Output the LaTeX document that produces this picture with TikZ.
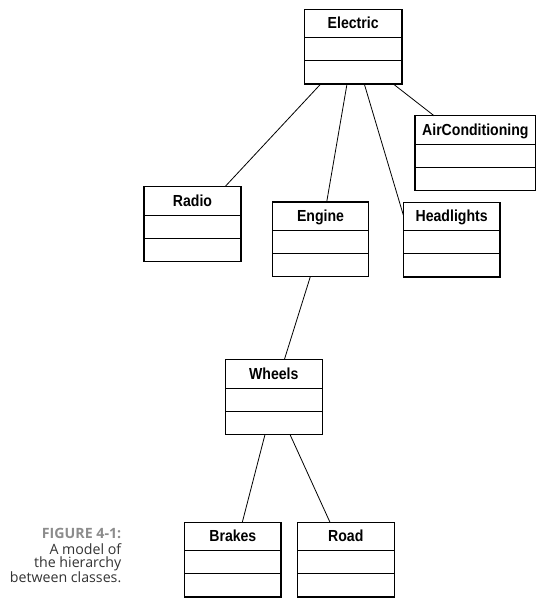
\documentclass[tikz,border=0pt]{standalone}
\usepackage{fontspec}
\usepackage{xcolor}
\usetikzlibrary{shapes.multipart}
\setmainfont{Open Sans}
\newfontfamily\classfont[FakeStretch=0.88]{Liberation Sans}

\newcommand\titlegap{\rule[-8.4pt]{0pt}{27.4pt}}
\newcommand\rowgap{\rule{0pt}{22pt}}

\begin{document}
\begin{tikzpicture}[x=1pt,y=-1pt,
  classbox/.style={draw,line width=1.1pt,rectangle split,rectangle split parts=3,
    inner sep=0pt,outer sep=0pt,anchor=north west,align=center,
    font=\fontsize{16}{16}\selectfont\classfont\bfseries},
  assoc/.style={line width=0.8pt}]
\useasboundingbox (0,0) rectangle (547,604);
\node[classbox,text width=97.7pt] (electric) at (304.3,9.3) {\titlegap Electric\nodepart{two}\rowgap\nodepart{three}\rowgap};
\node[classbox,text width=120.7pt] (aircon) at (415,115.7) {\titlegap AirConditioning\nodepart{two}\rowgap\nodepart{three}\rowgap};
\node[classbox,text width=97pt] (radio) at (144,186.7) {\titlegap Radio\nodepart{two}\rowgap\nodepart{three}\rowgap};
\node[classbox,text width=96.4pt] (engine) at (272.3,202) {\titlegap Engine\nodepart{two}\rowgap\nodepart{three}\rowgap};
\node[classbox,text width=96.7pt] (headlights) at (403.3,202.3) {\titlegap Headlights\nodepart{two}\rowgap\nodepart{three}\rowgap};
\node[classbox,text width=97pt] (wheels) at (225.3,359.8) {\titlegap Wheels\nodepart{two}\rowgap\nodepart{three}\rowgap};
\node[classbox,text width=96.3pt] (brakes) at (184.7,522.3) {\titlegap Brakes\nodepart{two}\rowgap\nodepart{three}\rowgap};
\node[classbox,text width=97pt] (road) at (297.3,522.3) {\titlegap Road\nodepart{two}\rowgap\nodepart{three}\rowgap};
\draw[assoc] ([xshift=16.4pt]electric.south west) -- ([xshift=81pt]radio.north west);
\draw[assoc] ([xshift=42.7pt]electric.south west) -- ([xshift=54.4pt]engine.north west);
\draw[assoc] ([xshift=60pt]electric.south west) -- ([yshift=-12.7pt]headlights.north west);
\draw[assoc] ([xshift=89pt]electric.south west) -- ([xshift=19pt]aircon.north west);
\draw[assoc] ([xshift=38pt]engine.south west) -- ([xshift=59pt]wheels.north west);
\draw[assoc] ([xshift=39.7pt]wheels.south west) -- ([xshift=57.6pt]brakes.north west);
\draw[assoc] ([xshift=64.7pt]wheels.south west) -- ([xshift=32.7pt]road.north west);
\node[anchor=north east,inner sep=0pt,align=right,text=black!80,
  font=\fontsize{14.2}{13.6}\selectfont] (caption) at (121.5,528.5)
  {\textcolor{black!45}{\bfseries FIGURE 4-1:}\\[1.6pt] A model of\\ the hierarchy\\ between classes.};
\end{tikzpicture}
\end{document}
